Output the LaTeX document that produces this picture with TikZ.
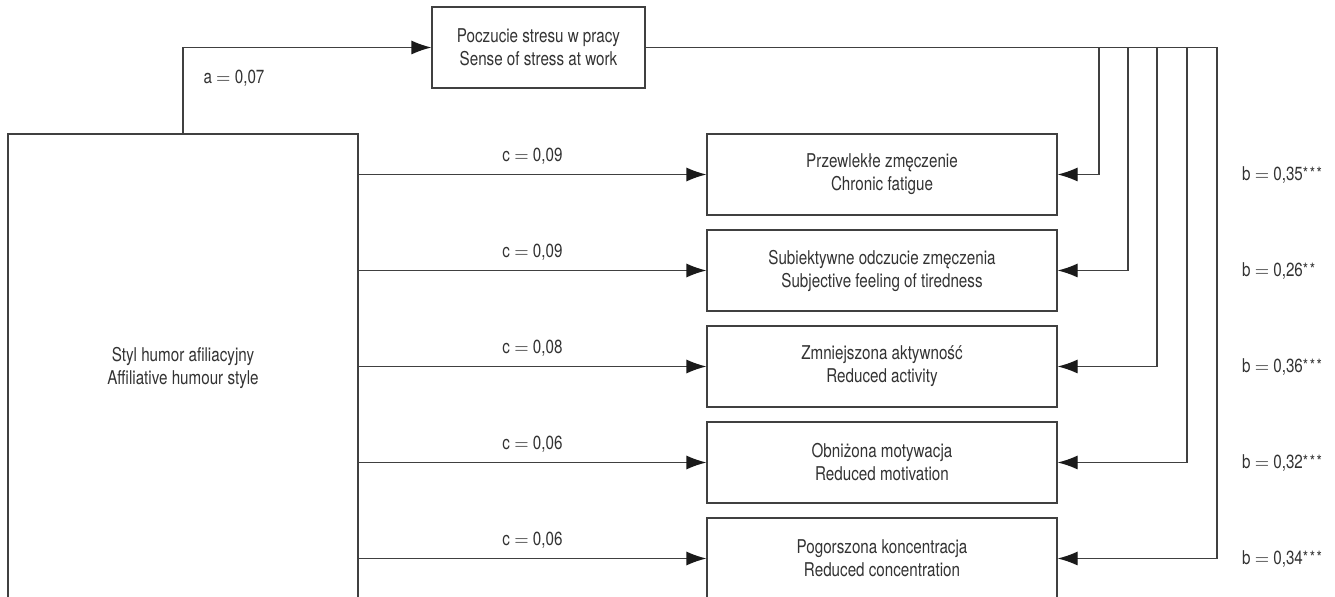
\documentclass[tikz,border=0pt]{standalone}
\usepackage{fontspec}
\setmainfont[FakeStretch=0.8]{TeX Gyre Heros}
\usetikzlibrary{arrows.meta}
\definecolor{linegray}{HTML}{404040}
\definecolor{textgray}{HTML}{333333}
\definecolor{tipgray}{HTML}{1A1A1A}
\newcommand{\stars}[1]{{\fontsize{8.5}{8.5}\selectfont\raisebox{0.1ex}{#1}}}

\begin{document}
\begin{tikzpicture}[
        x=0.5pt, y=-0.5pt,
        every node/.style={text=textgray, font=\fontsize{9.5}{11.5}\selectfont},
        box/.style={draw=linegray, line width=0.6pt, align=center, inner sep=0pt},
        outbox/.style={box, minimum width=175pt, minimum height=40.5pt},
        link/.style={draw=linegray, line width=0.6pt, -{Latex[length=10pt,width=7pt,color=tipgray]}}
        ]

        \useasboundingbox (0,0) rectangle (1335,597);

        % predictor and mediator
        \node[box, minimum width=175pt, minimum height=234pt] (humor) at (183,368)
            {Styl humor afiliacyjny\\Affiliative humour style};
        \node[box, minimum width=106.5pt, minimum height=40.5pt] (stress) at (538.5,47.5)
            {Poczucie stresu w pracy\\Sense of stress at work};

        \draw[link] (humor.north) |- (stress.west);
        \node (alabel) at (234,78) {a $=$ 0,07};

        % outcomes
        \foreach \i/\y/\pl/\en/\cv/\bv/\fx in {
                1/174.5/{Przewlekłe zmęczenie}/{Chronic fatigue}/{0,09}/{0,35\stars{*\kern0.8pt*\kern0.8pt*}}/1099,
                2/270.5/{Subiektywne odczucie zmęczenia}/{Subjective feeling of tiredness}/{0,09}/{0,26\stars{*\kern0.8pt*}}/1128,
                3/366.5/{Zmniejszona aktywność}/{Reduced activity}/{0,08}/{0,36\stars{*\kern0.8pt*\kern0.8pt*}}/1157,
                4/462.5/{Obniżona motywacja}/{Reduced motivation}/{0,06}/{0,32\stars{*\kern0.8pt*\kern0.8pt*}}/1187,
                5/558.5/{Pogorszona koncentracja}/{Reduced concentration}/{0,06}/{0,34\stars{*\kern0.8pt*\kern0.8pt*}}/1217}{
            \node[outbox] (out\i) at (882,\y) {\pl\\\en};
            \draw[link] (humor.east |- out\i.west) -- (out\i.west)
                node[midway, yshift=9pt] (c\i) {c $=$ \cv};
            \coordinate (fb\i) at (\fx,47.5);
            \draw[link] (fb\i) |- (out\i.east);
            \node[anchor=west] (b\i) at (1235,\y) {b $=$ \bv};
        }

        \draw[linegray, line width=0.6pt] (stress.east) -- (fb5);
    \end{tikzpicture}
\end{document}
